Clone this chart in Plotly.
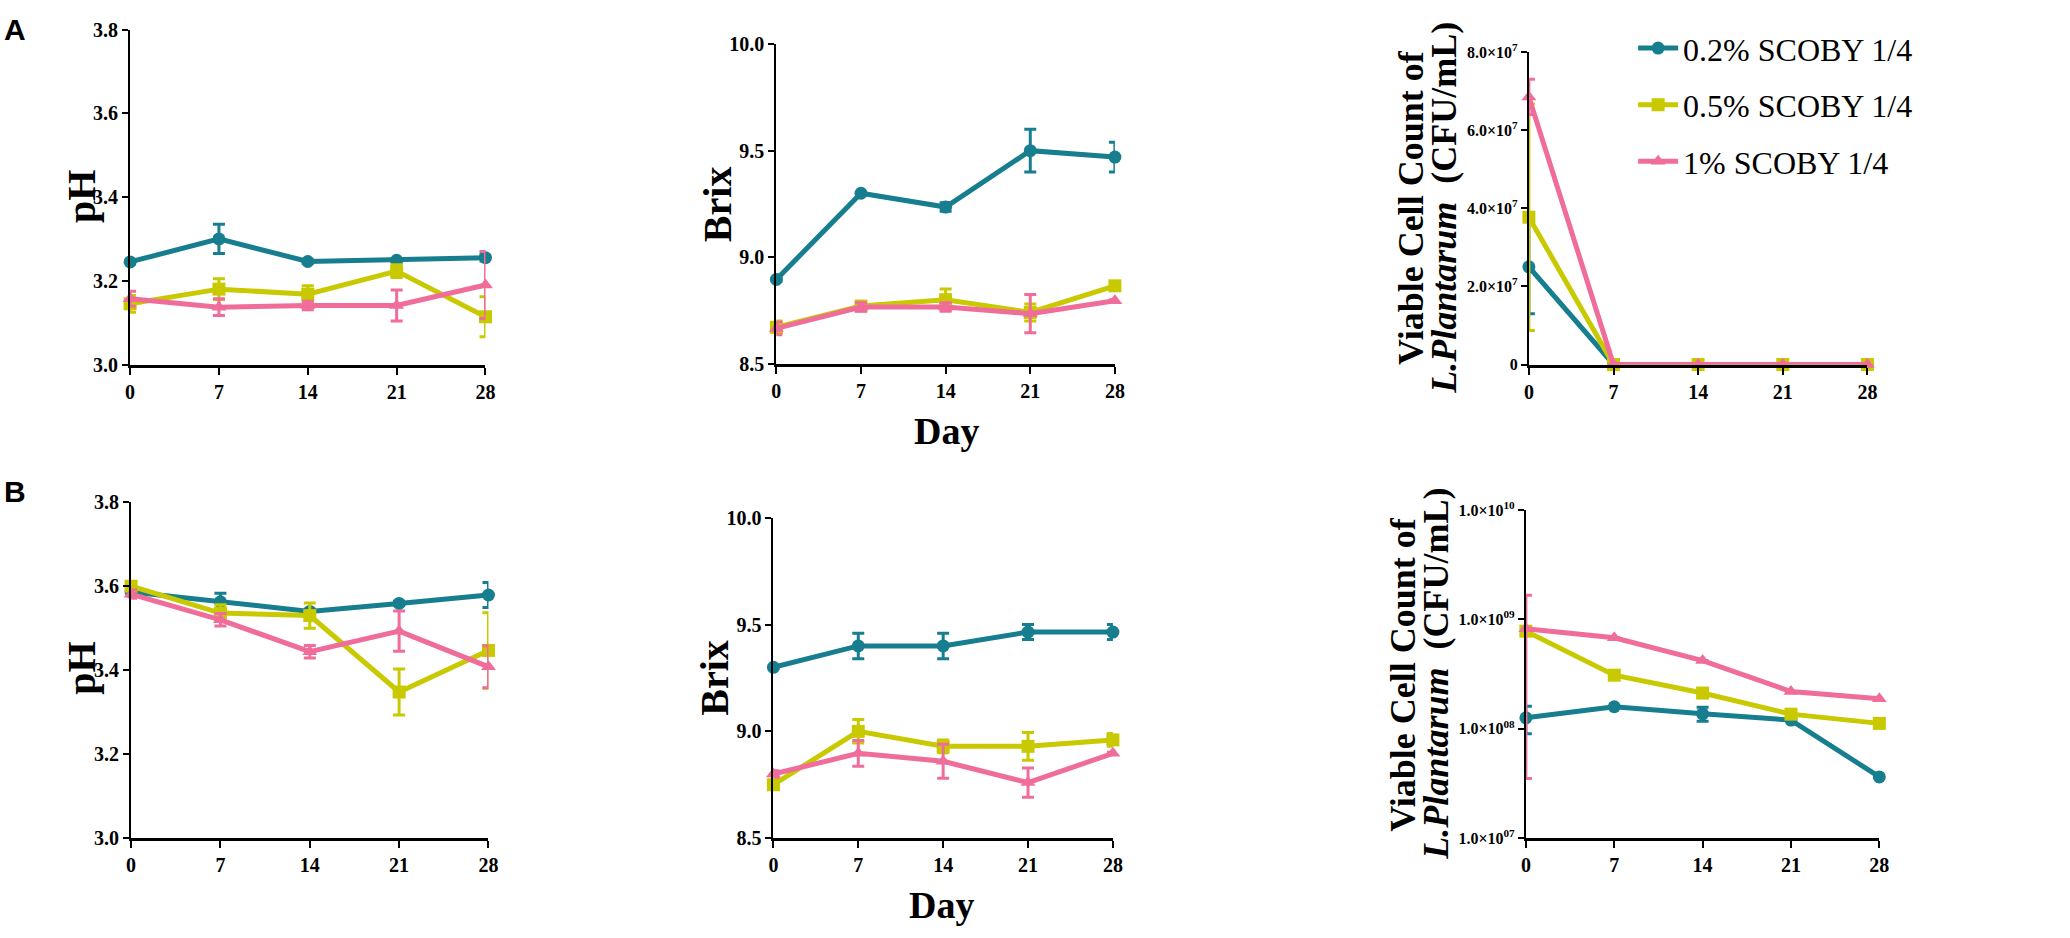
import plotly.graph_objects as go

W, H = 2070, 938

days = [0, 7, 14, 21, 28]
series_names = ["0.2% SCOBY 1/4", "0.5% SCOBY 1/4", "1% SCOBY 1/4"]
colors = ["#167E8E", "#C8C900", "#F06C9B"]
symbols = ["circle", "square", "triangle-up"]

# ---- Panel A ----
ph_a = [[3.245, 3.300, 3.246, 3.249, 3.255],
        [3.145, 3.180, 3.168, 3.223, 3.114],
        [3.157, 3.137, 3.141, 3.141, 3.190]]
ph_a_err = [[0.005, 0.035, 0.004, 0.004, 0.008],
            [0.020, 0.025, 0.020, 0.015, 0.048],
            [0.018, 0.020, 0.010, 0.037, 0.080]]

brix_a = [[8.895, 9.300, 9.235, 9.500, 9.470],
          [8.670, 8.770, 8.800, 8.740, 8.865],
          [8.665, 8.765, 8.765, 8.734, 8.795]]
brix_a_err = [[0.01, 0.005, 0.02, 0.10, 0.07],
              [0.03, 0.02, 0.05, 0.04, 0.02],
              [0.03, 0.02, 0.02, 0.09, 0.005]]

cfu_a = [[2.5e7, 0, 0, 0, 0],
         [3.77e7, 0, 0, 0, 0],
         [6.85e7, 0, 0, 0, 0]]
cfu_a_err = [[1.2e7, 0, 0, 0, 0],
             [2.9e7, 0, 0, 0, 0],
             [0.45e7, 0, 0, 0, 0]]

# ---- Panel B ----
ph_b = [[3.586, 3.563, 3.540, 3.559, 3.579],
        [3.600, 3.536, 3.530, 3.348, 3.447],
        [3.581, 3.520, 3.444, 3.493, 3.408]]
ph_b_err = [[0.005, 0.020, 0.005, 0.005, 0.030],
            [0.008, 0.020, 0.030, 0.055, 0.090],
            [0.010, 0.015, 0.015, 0.048, 0.050]]

brix_b = [[9.300, 9.400, 9.400, 9.465, 9.465],
          [8.750, 9.000, 8.930, 8.930, 8.960],
          [8.800, 8.897, 8.860, 8.760, 8.897]]
brix_b_err = [[0.005, 0.060, 0.060, 0.035, 0.035],
              [0.020, 0.055, 0.030, 0.065, 0.030],
              [0.015, 0.060, 0.080, 0.068, 0.005]]

cfu_b = [[1.26e8, 1.59e8, 1.37e8, 1.20e8, 3.63e7],
         [7.8e8, 3.09e8, 2.12e8, 1.36e8, 1.12e8],
         [8.2e8, 6.8e8, 4.2e8, 2.19e8, 1.88e8]]
cfu_b_err_plus = [[0.35e8, 0.0, 0.2e8, 0.0, 0.0],
                  [0.0, 0.0, 0.0, 0.0, 0.0],
                  [8.4e8, 0.0, 0.0, 0.0, 0.0]]
cfu_b_err_minus = [[0.36e8, 0.0, 0.2e8, 0.0, 0.0],
                   [0.0, 0.0, 0.0, 0.0, 0.0],
                   [7.85e8, 0.0, 0.0, 0.0, 0.0]]

ph_ticks = [3.0, 3.2, 3.4, 3.6, 3.8]
brix_ticks = [8.5, 9.0, 9.5, 10.0]
cfu_a_ticks = [0, 2e7, 4e7, 6e7, 8e7]
cfu_a_text = ["0", "2.0×10<sup>7</sup>", "4.0×10<sup>7</sup>", "6.0×10<sup>7</sup>", "8.0×10<sup>7</sup>"]
cfu_b_ticks = [1e7, 1e8, 1e9, 1e10]
cfu_b_text = ["1.0×10<sup>07</sup>", "1.0×10<sup>08</sup>", "1.0×10<sup>09</sup>", "1.0×10<sup>10</sup>"]

# pixel boxes: (x0, x1, y0_top, y1_bottom)
boxes = {
    1: (126, 484, 19, 362),
    2: (777, 1118, 34, 361),
    3: (1535, 1876, 42, 362),
    4: (127, 487, 503, 847),
    5: (774, 1116, 519, 847),
    6: (1532, 1888, 511, 847),
}

fig = go.Figure()

SERIF = "Liberation Serif"

def add_panel(idx, data, err_p, err_m=None, showlegend=False):
    xa = "x" if idx == 1 else f"x{idx}"
    ya = "y" if idx == 1 else f"y{idx}"
    for i in range(3):
        em = err_m[i] if err_m is not None else err_p[i]
        fig.add_trace(go.Scatter(
            x=days, y=data[i], xaxis=xa, yaxis=ya,
            mode="lines+markers", name=series_names[i],
            legendgroup=series_names[i], showlegend=showlegend,
            line=dict(color=colors[i], width=5),
            marker=dict(symbol=symbols[i], size=13, color=colors[i]),
            error_y=dict(type="data", symmetric=False, array=err_p[i], arrayminus=em,
                         color=colors[i], thickness=3, width=6),
            cliponaxis=False,
        ))

add_panel(1, ph_a, ph_a_err, showlegend=True)
add_panel(2, brix_a, brix_a_err)
add_panel(3, cfu_a, cfu_a_err)
add_panel(4, ph_b, ph_b_err)
add_panel(5, brix_b, brix_b_err)
add_panel(6, cfu_b, cfu_b_err_plus, cfu_b_err_minus)

tickfont = dict(family=SERIF, size=20, color="black", weight="bold")
cfu_tickfont = dict(family=SERIF, size=16, color="black", weight="bold")

for idx, (x0, x1, y0, y1) in boxes.items():
    xk = "xaxis" if idx == 1 else f"xaxis{idx}"
    yk = "yaxis" if idx == 1 else f"yaxis{idx}"
    xa = "x" if idx == 1 else f"x{idx}"
    ya = "y" if idx == 1 else f"y{idx}"
    fig.layout[xk] = dict(domain=[x0 / W, x1 / W], anchor=ya, range=[0, 28],
                          tickvals=days, ticks="outside", ticklen=7, tickwidth=2,
                          tickcolor="black", showline=True, linecolor="black", linewidth=3,
                          showgrid=False, zeroline=False, tickfont=tickfont, fixedrange=True)
    ydict = dict(domain=[1 - y1 / H, 1 - y0 / H], anchor=xa, ticks="outside", ticklen=6,
                 tickwidth=2, tickcolor="black", showline=True, linecolor="black", linewidth=2,
                 showgrid=False, zeroline=False, tickfont=tickfont, fixedrange=True)
    if idx in (1, 4):
        ydict.update(range=[3.0, 3.8], tickvals=ph_ticks, tickformat=".1f")
    elif idx in (2, 5):
        ydict.update(range=[8.5, 10.0], tickvals=brix_ticks, tickformat=".1f")
    elif idx == 3:
        ydict.update(range=[0, 8e7], tickvals=cfu_a_ticks, ticktext=cfu_a_text,
                     tickfont=cfu_tickfont)
    else:
        ydict.update(type="log", range=[7, 10], tickvals=cfu_b_ticks, ticktext=cfu_b_text,
                     tickfont=cfu_tickfont)
    fig.layout[yk] = ydict

ann = []
def px(x, y):
    return x / W, 1 - y / H

for (cx, cy, txt) in [(77, 190, "pH"), (77, 673, "pH"),
                      (718, 198, "Brix"), (715, 683, "Brix")]:
    X, Y = px(cx, cy)
    ann.append(dict(x=X, y=Y, xref="paper", yref="paper", text=txt, showarrow=False,
                    textangle=-90, xanchor="center", yanchor="middle",
                    font=dict(family=SERIF, size=40, color="black", weight="bold")))

for (cx, cy) in [(948, 430), (943, 915)]:
    X, Y = px(cx, cy)
    ann.append(dict(x=X, y=Y, xref="paper", yref="paper", text="Day", showarrow=False,
                    xanchor="center", yanchor="middle",
                    font=dict(family=SERIF, size=38, color="black", weight="bold")))

for (c1, c2, cy) in [(1417, 1450, 201), (1408, 1442, 679)]:
    X1, Y = px(c1, cy)
    X2, _ = px(c2, cy)
    ann.append(dict(x=X1, y=Y, xref="paper", yref="paper", text="Viable Cell Count of",
                    showarrow=False, textangle=-90, xanchor="center", yanchor="middle",
                    font=dict(family=SERIF, size=36, color="black", weight="bold")))
    ann.append(dict(x=X2, y=Y, xref="paper", yref="paper",
                    text="<i>L.Plantarum</i>  (CFU/mL)",
                    showarrow=False, textangle=-90, xanchor="center", yanchor="middle",
                    font=dict(family=SERIF, size=36, color="black", weight="bold")))

for (cx, cy, txt) in [(10, 19, "A"), (10, 492, "B")]:
    X, Y = px(cx, cy)
    ann.append(dict(x=X, y=Y, xref="paper", yref="paper", text=txt, showarrow=False,
                    xanchor="center", yanchor="middle",
                    font=dict(family="Liberation Sans", size=30, color="black", weight="bold")))

fig.update_layout(
    width=W, height=H,
    margin=dict(l=0, r=0, t=0, b=0),
    paper_bgcolor="white", plot_bgcolor="white",
    annotations=ann,
    showlegend=True,
    legend=dict(x=1640 / W, y=1 - 10 / H, xanchor="left", yanchor="top",
                font=dict(family=SERIF, size=32, color="black"),
                bgcolor="rgba(0,0,0,0)", tracegroupgap=12, itemwidth=40,
                traceorder="grouped"),
)

fig.write_html("out.html")
